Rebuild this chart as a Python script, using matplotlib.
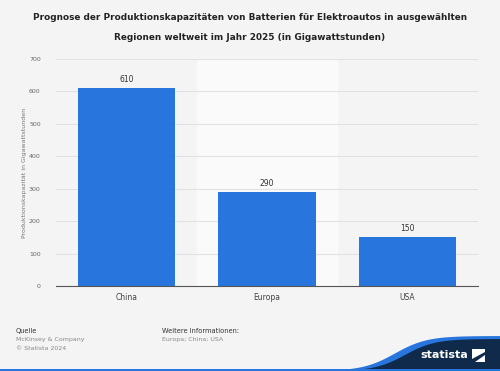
import matplotlib
matplotlib.use("Agg")
import matplotlib.pyplot as plt
import numpy as np
from matplotlib.patches import Polygon, Rectangle

categories = ["China", "Europa", "USA"]
values = [610, 290, 150]
yticks = [0, 100, 200, 300, 400, 500, 600, 700]

W, H = 500, 371
fig = plt.figure(figsize=(W/100, H/100), dpi=100)
bg = "#f4f4f4"
fig.patch.set_facecolor(bg)

def fx(px): return px / W
def fy(py): return 1 - py / H

ax = fig.add_axes([fx(56), fy(286), fx(478) - fx(56), fy(59) - fy(286)])
ax.set_facecolor(bg)
x = np.arange(len(categories))
ax.axvspan(0.5, 1.5, color="#fafafa", zorder=0)
for t in yticks[1:]:
    ax.axhline(t, color="#e2e2e2", lw=0.8, zorder=1)
ax.bar(x, values, width=0.69, color="#2876dd", zorder=2)
for xi, v in zip(x, values):
    ax.text(xi, v + 12, str(v), ha="center", va="bottom", fontsize=5.5, color="#333333")
ax.set_xlim(-0.5, 2.5)
ax.set_ylim(0, 700)
ax.set_yticks(yticks)
ax.set_yticklabels([str(t) for t in yticks], fontsize=4.5, color="#666666")
ax.set_xticks(x)
ax.set_xticklabels(categories, fontsize=5.5, color="#444444")
ax.tick_params(axis="both", length=0, pad=5)
ax.tick_params(axis="y", pad=11)
for s in ["top", "right", "left"]:
    ax.spines[s].set_visible(False)
ax.spines["bottom"].set_color("#555555")
ax.spines["bottom"].set_linewidth(0.8)
ax.set_ylabel("Produktionskapazität in Gigawattstunden", fontsize=4.5, color="#777777")
ax.yaxis.set_label_coords((27 - 56) / (478 - 56), 0.5)

fig.text(0.5, fy(18), "Prognose der Produktionskapazitäten von Batterien für Elektroautos in ausgewählten",
         ha="center", va="center", fontsize=6.4, fontweight="bold", color="#222222")
fig.text(0.5, fy(38), "Regionen weltweit im Jahr 2025 (in Gigawattstunden)",
         ha="center", va="center", fontsize=6.4, fontweight="bold", color="#222222")

fig.text(fx(16), fy(331), "Quelle", fontsize=4.8, color="#333333", va="center")
fig.text(fx(16), fy(340), "McKinsey & Company", fontsize=4.5, color="#888888", va="center")
fig.text(fx(16), fy(348), "© Statista 2024", fontsize=4.5, color="#888888", va="center")
fig.text(fx(162), fy(331), "Weitere Informationen:", fontsize=4.8, color="#333333", va="center")
fig.text(fx(162), fy(340), "Europa; China; USA", fontsize=4.5, color="#888888", va="center")

# footer wave
xs = np.linspace(300, 500, 80)
top = 371 - (371 - 336) / (1 + np.exp(-(xs - 395) / 16))
pts = [(fx(a), fy(b)) for a, b in zip(xs, top)] + [(fx(500), fy(371)), (fx(300), fy(371))]
fig.add_artist(Polygon(pts, closed=True, transform=fig.transFigure, facecolor="#2876dd", edgecolor="none"))
top2 = 371 - (371 - 339) / (1 + np.exp(-(xs - 405) / 15))
pts2 = [(fx(a), fy(b)) for a, b in zip(xs, top2)] + [(fx(500), fy(371)), (fx(300), fy(371))]
fig.add_artist(Polygon(pts2, closed=True, transform=fig.transFigure, facecolor="#0f2a4a", edgecolor="none"))
fig.add_artist(Rectangle((0, 0), 1, 2 / H, transform=fig.transFigure,
                         facecolor="#2876dd", edgecolor="none"))
fig.text(fx(420), fy(355), "statista", fontsize=8, fontweight="bold", color="white", ha="left", va="center")
fig.add_artist(Polygon([(fx(472), fy(349)), (fx(485), fy(349)), (fx(485), fy(362)), (fx(472), fy(362))],
                       closed=True, transform=fig.transFigure, facecolor="white", edgecolor="none"))
fig.add_artist(Polygon([(fx(472), fy(359)), (fx(485), fy(352)), (fx(485), fy(355)), (fx(475), fy(362)), (fx(472), fy(362))],
                       closed=True, transform=fig.transFigure, facecolor="#0f2a4a", edgecolor="none"))

fig.savefig("out.png", dpi=100, facecolor=bg)
